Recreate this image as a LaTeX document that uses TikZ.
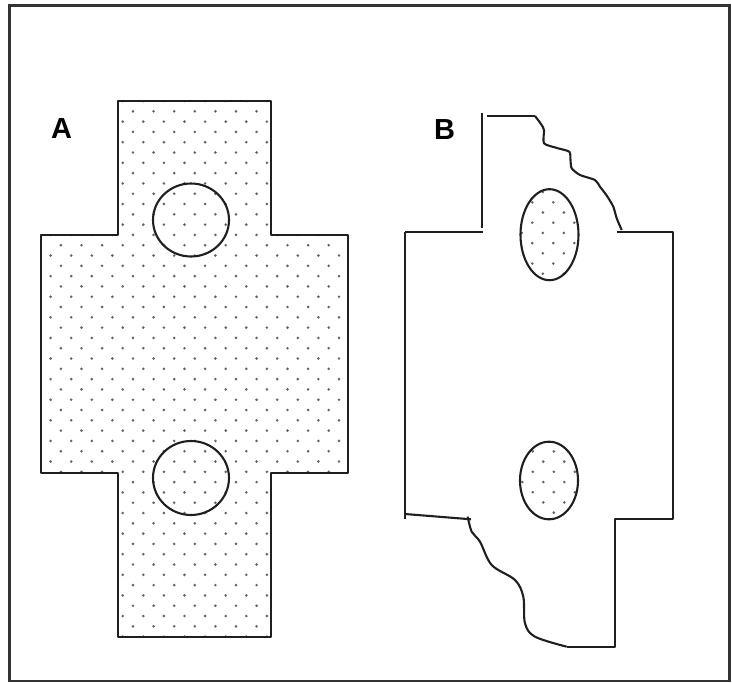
\documentclass[tikz,border=0pt]{standalone}
\usepackage{fontspec}
\setmainfont{Liberation Sans}
\begin{document}
\begin{tikzpicture}[x=1pt,y=-1pt,
  outline/.style={draw=black!88,line width=2.1pt,line join=round},
  frameline/.style={draw=black!80,line width=2.6pt},
  dotfill/.style={fill=black!60},
  letter/.style={font=\fontsize{29}{30}\selectfont\bfseries,inner sep=0pt}]
\useasboundingbox (0,0) rectangle (732,683);
% frame
\draw[frameline] (9.5,5.5) rectangle (729.5,681);
% ---------- Shape A ----------
\begin{scope}
  \clip (118,101) -- (271,101) -- (271,235) -- (348,235) -- (348,473) -- (271,473)
        -- (271,637) -- (118,637) -- (118,473) -- (41,473) -- (41,235) -- (118,235) -- cycle;
  \foreach \i in {0,...,53}{
    \foreach \k in {0,...,17}{
      \fill[dotfill] ({19.7+20.6*\k+10.3*mod(\i,2)},{101+10.3*\i}) circle (1.45);
    }
  }
\end{scope}
\draw[outline] (118,101) -- (271,101) -- (271,235) -- (348,235) -- (348,473) -- (271,473)
      -- (271,637) -- (118,637) -- (118,473) -- (41,473) -- (41,235) -- (118,235) -- cycle;
\draw[outline] (191,220) ellipse [x radius=38,y radius=36.5];
\draw[outline] (191,478) ellipse [x radius=38,y radius=37];
\node[letter] (labA) at (61.5,129) {A};
% ---------- Shape B ----------
\begin{scope}
  \clip (549.5,234.7) ellipse [x radius=29,y radius=45.5];
  \foreach \i in {0,...,10}{
    \foreach \k in {0,...,6}{
      \fill[dotfill] ({511.3+21*\k+10.5*mod(\i,2)},{181.9+10.2*\i}) circle (1.45);
    }
  }
\end{scope}
\begin{scope}
  \clip (549,480.5) ellipse [x radius=29,y radius=38.8];
  \foreach \i in {0,...,9}{
    \foreach \k in {0,...,6}{
      \fill[dotfill] ({511.8+21*\k+10.5*mod(\i,2)},{431+10.2*\i}) circle (1.45);
    }
  }
\end{scope}
\draw[outline] (549.5,234.7) ellipse [x radius=29,y radius=45.5];
\draw[outline] (549,480.5) ellipse [x radius=29,y radius=38.8];
% left part
\draw[outline] (481.7,113.3) -- (481.7,228.3);
\draw[outline] (405,232.3) -- (482.7,232.3);
\draw[outline] (405,232.3) -- (405,519.3);
\draw[outline] (405,514) -- (471,519.3);
% top edge and wavy contour
\draw[outline] (487.3,116) -- (535,116);
\draw[outline] plot[smooth,tension=0.4] coordinates {(535,116) (541,124) (544,130) (544,143.3) (557,148) (569.3,151.7) (570.5,160) (571.7,168.3) (580,175) (595,180) (600,186.7) (607,196) (613.3,206.7) (616.7,218.3) (621.7,230)};
\draw[outline] (616.7,231.7) -- (673.3,231.7) -- (673.3,519.3) -- (615,519.3) -- (615,646.7) -- (566.7,646.7);
\draw[outline] plot[smooth,tension=0.55] coordinates {(566.7,646.7) (535,636.7) (525,623.3) (523.3,596.7) (515,580) (491.7,565) (480,541.7) (471.7,531.7) (467.7,516.7)};
\node[letter] (labB) at (444.5,130) {B};
\end{tikzpicture}
\end{document}
